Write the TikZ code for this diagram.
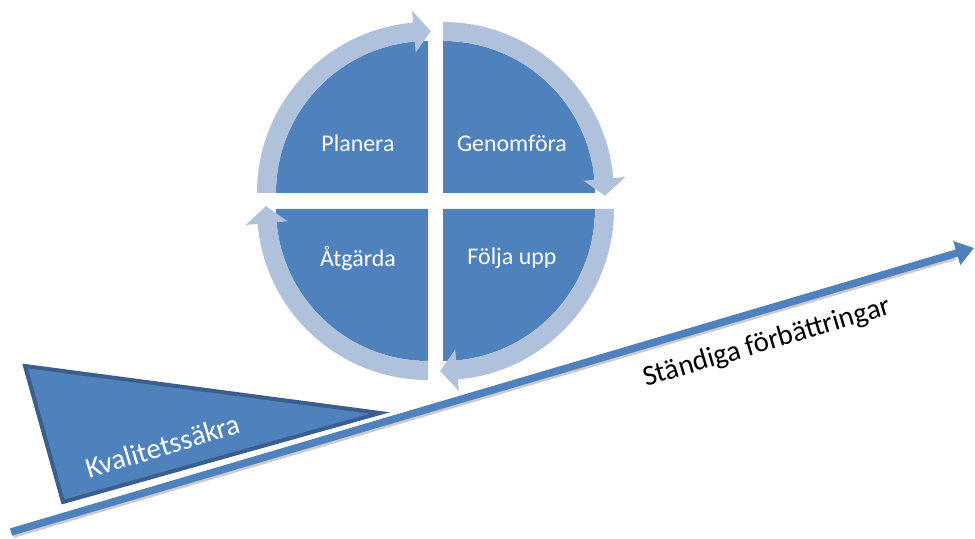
\documentclass[tikz,border=0pt]{standalone}
\usepackage{fontspec}
\setmainfont{Carlito}
\usetikzlibrary{arrows.meta}
\definecolor{quadblue}{HTML}{4F81BD}
\definecolor{ringblue}{HTML}{B0C1DB}
\definecolor{edgeblue}{HTML}{3B5F8C}
\begin{document}
\begin{tikzpicture}[>=latex,line join=bevel,
  quad/.style={fill=quadblue,draw=none},
  ring/.style={fill=ringblue,draw=none},
  quadlabel/.style={text=white,font=\fontsize{24}{28}\selectfont},
  sidelabel/.style={font=\fontsize{29}{33}\selectfont,rotate=16.5},
  mainline/.style={draw=quadblue,line width=7.5bp,-{Triangle[length=18bp,width=24bp]}},
  shadowline/.style={draw=black!45,opacity=0.45,line width=6bp}]
\useasboundingbox (0bp,0bp) rectangle (975bp,539bp);
%%
\coordinate (corner_tl) at (428bp,346bp);
  \coordinate (corner_tr) at (443bp,346bp);
  \coordinate (corner_br) at (443bp,330bp);
  \coordinate (corner_bl) at (428bp,330bp);
  \coordinate (line_start) at (11bp,7bp);
  \coordinate (line_end) at (974bp,291bp);
  \coordinate (shadow_start) at (13bp,4bp);
  \coordinate (shadow_end) at (955bp,282bp);
%
  \fill [quad] (corner_tl) -- ++(180:152bp) arc[start angle=180,end angle=90,radius=152bp] -- cycle;
  \fill [quad] (corner_tr) -- ++(90:152bp) arc[start angle=90,end angle=0,radius=152bp] -- cycle;
  \fill [quad] (corner_br) -- ++(0:152bp) arc[start angle=0,end angle=-90,radius=152bp] -- cycle;
  \fill [quad] (corner_bl) -- ++(-90:152bp) arc[start angle=-90,end angle=-180,radius=152bp] -- cycle;
%
  \fill [ring] ([shift={(180:171bp)}]corner_tl) arc[start angle=180,end angle=95,radius=171bp]
    -- ([shift={(95:183bp)}]corner_tl) -- ([shift={(89:162bp)}]corner_tl) -- ([shift={(95:141bp)}]corner_tl)
    -- ([shift={(95:152bp)}]corner_tl) arc[start angle=95,end angle=180,radius=152bp] -- cycle;
  \fill [ring] ([shift={(90:171bp)}]corner_tr) arc[start angle=90,end angle=5,radius=171bp]
    -- ([shift={(5:183bp)}]corner_tr) -- ([shift={(-1:162bp)}]corner_tr) -- ([shift={(5:141bp)}]corner_tr)
    -- ([shift={(5:152bp)}]corner_tr) arc[start angle=5,end angle=90,radius=152bp] -- cycle;
  \fill [ring] ([shift={(0:171bp)}]corner_br) arc[start angle=0,end angle=-85,radius=171bp]
    -- ([shift={(-85:183bp)}]corner_br) -- ([shift={(-91:162bp)}]corner_br) -- ([shift={(-85:141bp)}]corner_br)
    -- ([shift={(-85:152bp)}]corner_br) arc[start angle=-85,end angle=0,radius=152bp] -- cycle;
  \fill [ring] ([shift={(-90:171bp)}]corner_bl) arc[start angle=-90,end angle=-175,radius=171bp]
    -- ([shift={(-175:183bp)}]corner_bl) -- ([shift={(-181:162bp)}]corner_bl) -- ([shift={(-175:141bp)}]corner_bl)
    -- ([shift={(-175:152bp)}]corner_bl) arc[start angle=-175,end angle=-90,radius=152bp] -- cycle;
%
  \node (plan) at (358bp,396bp) [quadlabel] {Planera};
  \node (genom) at (512bp,396bp) [quadlabel] {Genomföra};
  \node (atgard) at (358bp,281bp) [quadlabel] {Åtgärda};
  \node (folj) at (512bp,281bp) [quadlabel] {Följa upp};
%
  \draw [shadowline] (shadow_start) -- (shadow_end);
  \draw [mainline] (line_start) -- (line_end);
  \node (standig) at (767bp,196bp) [sidelabel] {Ständiga förbättringar};
%
  \filldraw [fill=quadblue,draw=edgeblue,line width=4bp,line join=miter] (25bp,173bp) -- (380bp,126bp) -- (63bp,37bp) -- cycle;
  \node (kvalitet) at (163bp,93bp) [sidelabel,text=white,rotate=0.3] {Kvalitetssäkra};
%
\end{tikzpicture}
\end{document}
